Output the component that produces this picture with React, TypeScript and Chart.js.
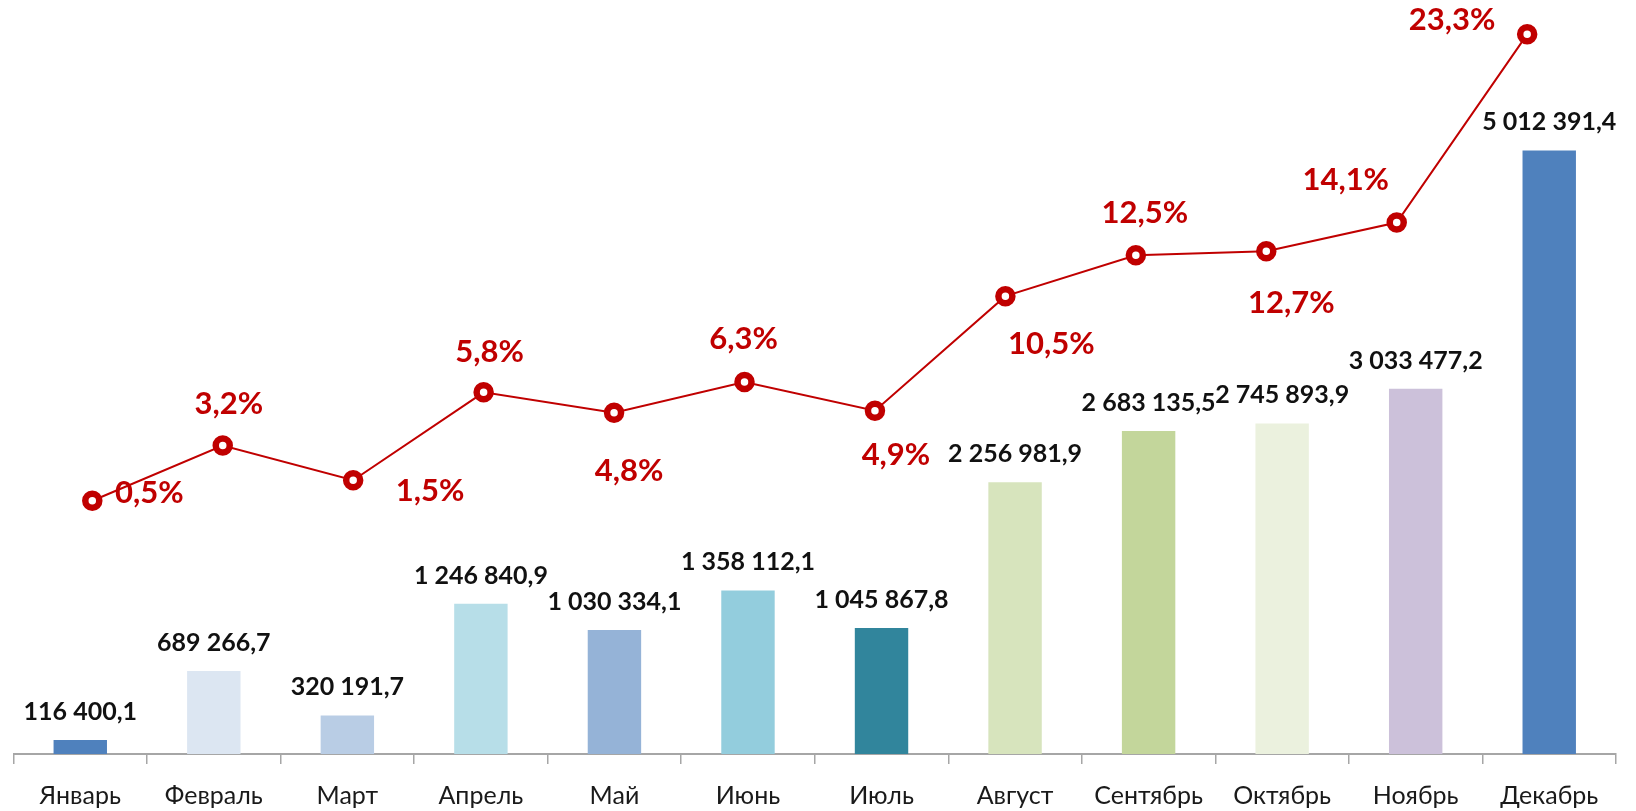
import React, { useEffect, useRef } from "react";
import { Chart, registerables } from "chart.js";

Chart.register(...registerables);

const months = ["Январь", "Февраль", "Март", "Апрель", "Май", "Июнь", "Июль", "Август", "Сентябрь", "Октябрь", "Ноябрь", "Декабрь"];
const amounts = [116400.1, 689266.7, 320191.7, 1246840.9, 1030334.1, 1358112.1, 1045867.8, 2256981.9, 2683135.5, 2745893.9, 3033477.2, 5012391.4];
const shares = [0.5, 3.2, 1.5, 5.8, 4.8, 6.3, 4.9, 10.5, 12.5, 12.7, 14.1, 23.3];

const barColors = ["#4F81BD", "#DCE6F2", "#B9CDE5", "#B7DEE8", "#95B3D7", "#93CDDD", "#31859C", "#D7E4BD", "#C3D69B", "#EBF1DE", "#CCC1DA", "#4F81BD"];
// label offsets (text centre relative to marker), style only
const shareLabelOffsets: [number, number][] = [[57, -8], [6, -42], [77, 11], [6, -40], [15, 58], [-1, -43], [21, 44], [46, 48], [9, -42], [25, 52], [-51, -43], [-75, -14]];

const FONT = "Lato, 'Open Sans', 'Noto Sans', sans-serif";

function fmtAmount(v: number): string {
  const [i, d] = v.toFixed(1).split(".");
  return i.replace(/\B(?=(\d{3})+(?!\d))/g, " ") + "," + d;
}
function fmtShare(v: number): string {
  return v.toFixed(1).replace(".", ",") + "%";
}

const labelPlugin = {
  id: "valueLabels",
  afterDatasetsDraw(chart: any) {
    const ctx = chart.ctx;
    ctx.save();
    const barMeta = chart.getDatasetMeta(0);
    ctx.font = `bold 25px ${FONT}`;
    ctx.fillStyle = "#111";
    ctx.textAlign = "center";
    ctx.textBaseline = "alphabetic";
    barMeta.data.forEach((el: any, i: number) => {
      ctx.fillText(fmtAmount(amounts[i]), el.x, el.y - 20);
    });
    const lineMeta = chart.getDatasetMeta(1);
    ctx.font = `bold 31px ${FONT}`;
    ctx.fillStyle = "#C00000";
    ctx.textBaseline = "middle";
    lineMeta.data.forEach((el: any, i: number) => {
      const [dx, dy] = shareLabelOffsets[i];
      ctx.fillText(fmtShare(shares[i]), el.x + dx, el.y + dy);
    });
    ctx.restore();
  },
};

export default function App() {
  const ref = useRef<HTMLCanvasElement | null>(null);
  useEffect(() => {
    if (!ref.current) return;
    const chart = new Chart(ref.current, {
      type: "bar",
      data: {
        labels: months,
        datasets: [
          {
            type: "bar",
            data: amounts,
            backgroundColor: barColors,
            borderWidth: 0,
            barPercentage: 0.4,
            categoryPercentage: 1,
            grouped: false,
            xAxisID: "x",
            yAxisID: "y",
            order: 2,
          } as any,
          {
            type: "line",
            data: shares.map((v, i) => ({ x: i, y: v })),
            xAxisID: "x2",
            yAxisID: "y2",
            borderColor: "#C00000",
            borderWidth: 2,
            pointRadius: 7,
            pointBorderWidth: 6.5,
            pointBackgroundColor: "#FFFFFF",
            pointBorderColor: "#C00000",
            clip: false,
            order: 1,
          } as any,
        ],
      },
      options: {
        responsive: false,
        animation: false,
        layout: { padding: { top: 20, left: 13, right: 20, bottom: 0 } },
        plugins: { legend: { display: false }, tooltip: { enabled: false } },
        scales: {
          x: {
            type: "category",
            offset: true,
            grid: { offset: true, drawOnChartArea: false, tickLength: 10, color: "#A6A6A6", lineWidth: 1.5 },
            border: { display: true, color: "#A6A6A6", width: 2 },
            ticks: { color: "#1A1A1A", font: { family: FONT, size: 25 }, padding: 17, maxRotation: 0 },
            afterFit: (s: any) => { s.height = 57; },
          },
          y: { display: false, min: 0, max: 6096000 },
          x2: { type: "linear", display: false, offset: false, grid: { offset: false }, min: -0.604, max: 11.681 },
          y2: { type: "linear", display: false, min: -11.88, max: 24.0 },
        },
      },
      plugins: [labelPlugin],
    });
    return () => chart.destroy();
  }, []);
  return (
    <div style={{ position: "fixed", left: 0, top: 0, width: 1636, height: 811, background: "#fff" }}>
      <canvas ref={ref} width={1636} height={811} style={{ display: "block" }} />
    </div>
  );
}
